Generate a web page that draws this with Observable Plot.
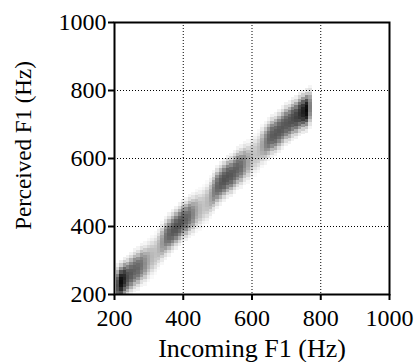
<!DOCTYPE html>
<html>
<head>
<meta charset="utf-8">
<script src="https://cdn.jsdelivr.net/npm/d3@7"></script>
<script src="https://cdn.jsdelivr.net/npm/@observablehq/plot@0.6"></script>
<style>
  html, body { margin: 0; padding: 0; background: #fff; }
  #chart svg { display: block; }
  #chart svg [aria-label$="tick"] path, #chart svg .tick line { stroke-width: 2; }
</style>
</head>
<body>
<div id="chart"></div>
<script>
// Incoming F1 (Hz) columns of the density band
const incoming = [210,220,230,240,250,260,270,280,290,300,310,320,330,340,350,360,370,380,390,400,
  410,420,430,440,450,460,470,480,490,500,510,520,530,540,550,560,570,580,590,600,
  610,620,630,640,650,660,670,680,690,700,710,720,730,740,750,760,770];
// Peak darkness of each column (0 = white, 1 = black)
const darkness = [0.7,0.95,0.85,0.7,0.65,0.62,0.6,0.55,0.45,0.35,0.28,0.25,0.3,0.4,0.55,0.62,0.66,0.68,0.68,0.66,
  0.62,0.58,0.48,0.36,0.28,0.24,0.27,0.36,0.5,0.6,0.65,0.68,0.68,0.66,0.64,0.62,0.58,0.48,0.36,0.28,
  0.24,0.27,0.36,0.5,0.6,0.64,0.66,0.66,0.66,0.66,0.68,0.7,0.74,0.8,0.88,0.97,0.5];
// Ridge of perceived F1 relative to incoming F1 (Hz)
const ridgeOffset = [15,15,15,10,10,10,5,5,0,0,0,0,5,10,15,15,15,15,15,15,
  10,10,5,5,0,0,0,5,10,15,15,15,15,10,10,10,5,5,0,0,
  0,0,5,5,5,5,0,0,0,0,-5,-5,-10,-10,-15,-20,-20];
// Cross-section of the band (offset in Hz from ridge, relative weight)
const crossOffsets = [-60,-50,-40,-30,-20,-10,0,10,20,30,40,50,60];
const crossWeights = [0.08,0.22,0.45,0.7,0.88,0.97,1,0.97,0.88,0.7,0.45,0.22,0.08];
const axisTicks = [200,400,600,800,1000];
const gridTicks = [400,600,800];
const cellSize = 10;

const cells = [];
incoming.forEach((inc, i) => {
  crossOffsets.forEach((co, j) => {
    const v = darkness[i] * crossWeights[j];
    const p = inc + ridgeOffset[i] + co;
    cells.push({x1: inc - cellSize / 2, x2: inc + cellSize / 2, y1: p - cellSize / 2, y2: p + cellSize / 2, v});
  });
});

const font = "'Liberation Serif', 'Times New Roman', serif";
const chart = Plot.plot({
  width: 419,
  height: 362,
  marginLeft: 114,
  marginRight: 30,
  marginTop: 22,
  marginBottom: 68,
  style: {fontFamily: font, fontSize: "24px", color: "#000", background: "#fff"},
  x: {domain: [200, 1000], ticks: axisTicks, tickSize: 6, tickPadding: 8, label: null, tickFormat: d => String(d)},
  y: {domain: [200, 1000], ticks: axisTicks, tickSize: 6, tickPadding: 2, label: null, tickFormat: d => String(d)},
  color: {type: "linear", domain: [0, 1], range: ["#ffffff", "#000000"]},
  marks: [
    Plot.rect(cells, {x1: "x1", x2: "x2", y1: "y1", y2: "y2", fill: "v", clip: true, shapeRendering: "crispEdges"}),
    Plot.ruleX(gridTicks, {stroke: "#000", strokeWidth: 1, strokeDasharray: "1,2"}),
    Plot.ruleY(gridTicks, {stroke: "#000", strokeWidth: 1, strokeDasharray: "1,2"}),
    Plot.frame({stroke: "#000", strokeWidth: 2}),
    Plot.text(["Incoming F1 (Hz)"], {frameAnchor: "bottom", lineAnchor: "middle", textAnchor: "middle", dy: 54, fontSize: 26, fill: "#000"}),
    Plot.text(["Perceived F1 (Hz)"], {frameAnchor: "left", lineAnchor: "middle", textAnchor: "middle", dx: -91, dy: -13, rotate: -90, fontSize: 23, fill: "#000"})
  ]
});
document.getElementById("chart").appendChild(chart);
</script>
</body>
</html>
